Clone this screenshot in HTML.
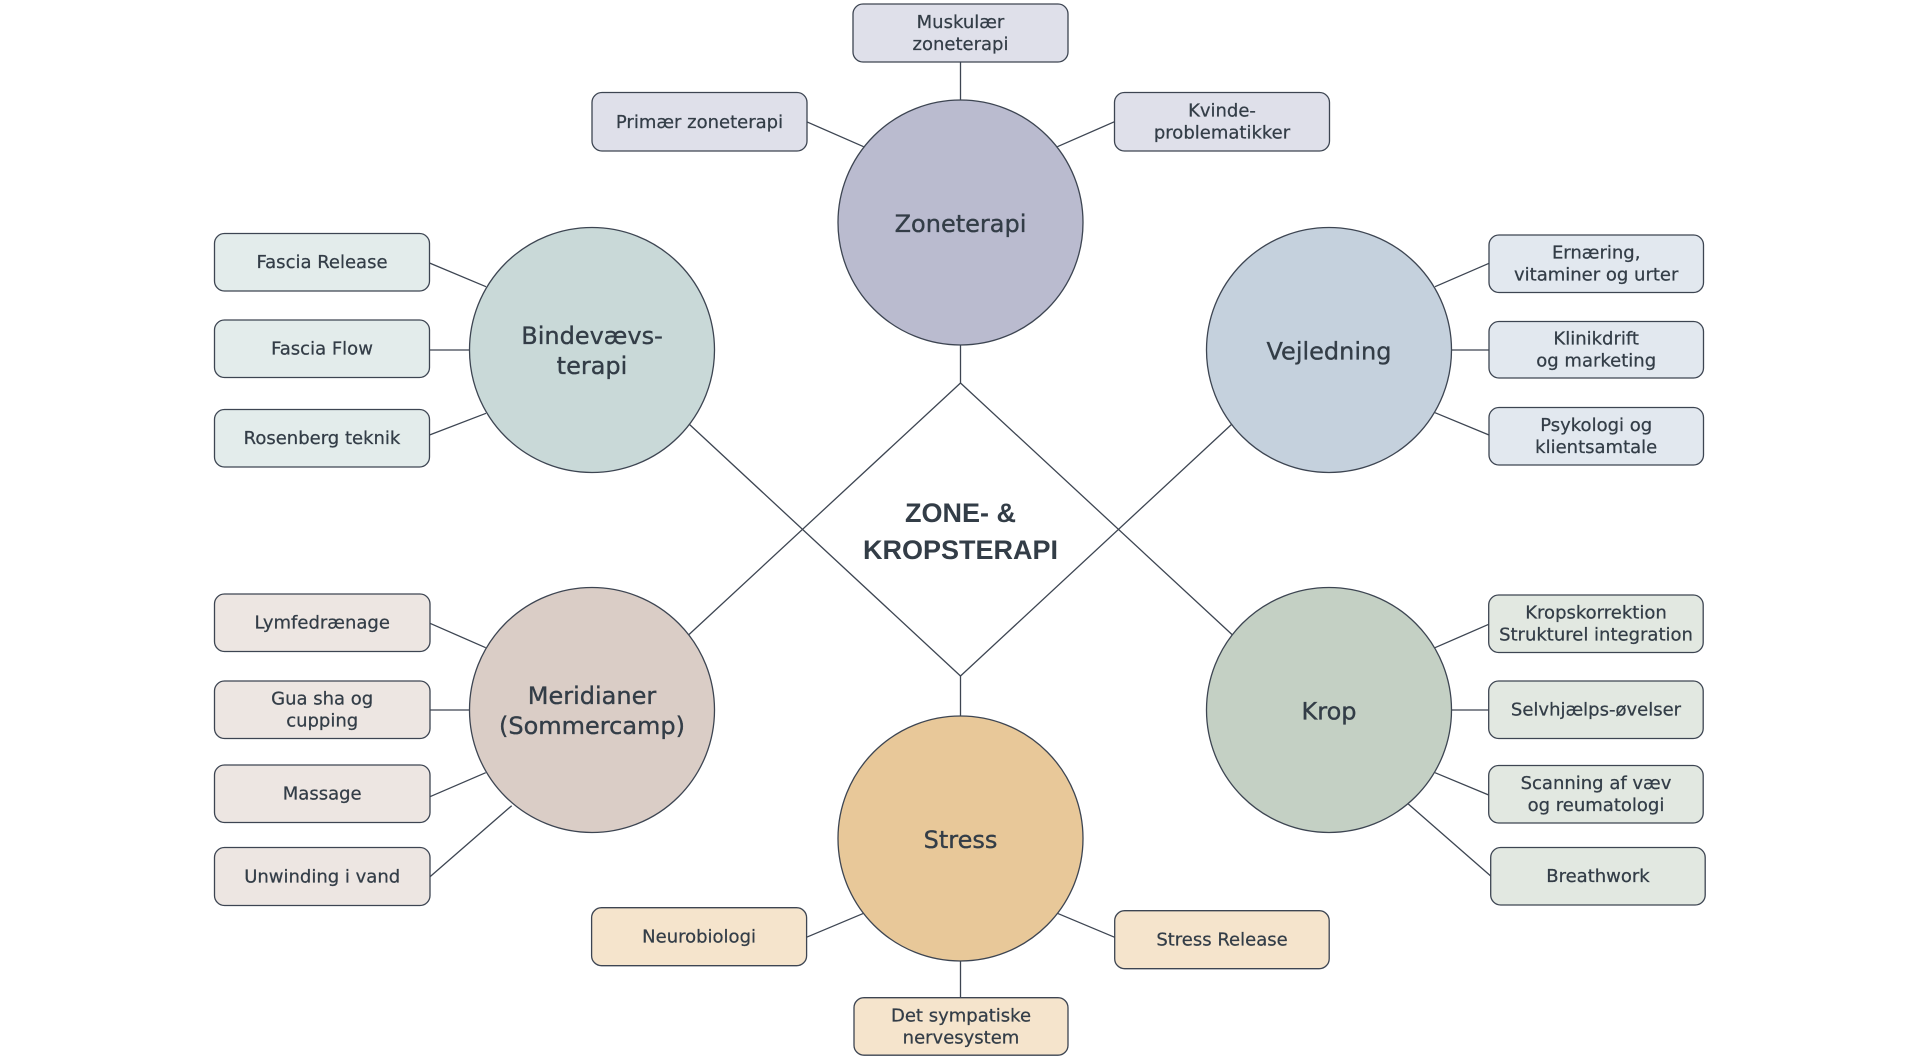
<!DOCTYPE html>
<html>
<head>
<meta charset="utf-8">
<style>
  html, body { margin:0; padding:0; background:#ffffff; }
  body { width:1920px; height:1060px; overflow:hidden; }
  svg { display:block; }
  .ln { stroke:#3d4552; stroke-width:1.3; fill:none; }
  .bx { stroke:#3d4552; stroke-width:1.3; }
  .ci { stroke:#3d4552; stroke-width:1.3; }
  .t { font-family:"DejaVu Sans","Liberation Sans",sans-serif; font-size:18px; fill:#333d47; stroke:#333d47; stroke-width:0.25; text-anchor:middle; }
  .c { font-family:"DejaVu Sans","Liberation Sans",sans-serif; font-size:24px; fill:#333d47; stroke:#333d47; stroke-width:0.35; text-anchor:middle; }
  .title { font-family:"Liberation Sans","DejaVu Sans",sans-serif; font-weight:bold; font-size:27px; fill:#333d47; text-anchor:middle; }
</style>
</head>
<body>
<svg width="1920" height="1060" viewBox="0 0 1920 1060" xmlns="http://www.w3.org/2000/svg">
  <rect x="0" y="0" width="1920" height="1060" fill="#ffffff"/>

  <!-- main connectors / diamond -->
  <line class="ln" x1="960.5" y1="345" x2="960.5" y2="383"/>
  <line class="ln" x1="960.5" y1="676" x2="960.5" y2="716"/>
  <line class="ln" x1="689" y1="424" x2="960.5" y2="676"/>
  <line class="ln" x1="1232" y1="424" x2="960.5" y2="676"/>
  <line class="ln" x1="688.5" y1="635" x2="960.5" y2="383"/>
  <line class="ln" x1="1232.5" y1="635" x2="960.5" y2="383"/>

  <!-- Zoneterapi connectors -->
  <line class="ln" x1="960.5" y1="62" x2="960.5" y2="100"/>
  <line class="ln" x1="806.5" y1="121.7" x2="863.6" y2="146.7"/>
  <line class="ln" x1="1114.5" y1="121.7" x2="1057.4" y2="146.7"/>

  <!-- Bindevævs connectors -->
  <line class="ln" x1="429.5" y1="263" x2="486" y2="286.7"/>
  <line class="ln" x1="429.5" y1="350" x2="469.5" y2="350"/>
  <line class="ln" x1="429.5" y1="435" x2="486" y2="413.3"/>

  <!-- Vejledning connectors -->
  <line class="ln" x1="1489" y1="263.3" x2="1435" y2="286.7"/>
  <line class="ln" x1="1451.5" y1="350" x2="1489" y2="350"/>
  <line class="ln" x1="1435" y1="412.7" x2="1489" y2="435"/>

  <!-- Meridianer connectors -->
  <line class="ln" x1="430" y1="623.3" x2="485.7" y2="647.7"/>
  <line class="ln" x1="430" y1="710" x2="469.5" y2="710"/>
  <line class="ln" x1="430" y1="796.7" x2="485.7" y2="772.7"/>
  <line class="ln" x1="430" y1="876.7" x2="511.7" y2="805.7"/>

  <!-- Krop connectors -->
  <line class="ln" x1="1488.7" y1="624.3" x2="1435" y2="647.7"/>
  <line class="ln" x1="1451.5" y1="710" x2="1488.7" y2="710"/>
  <line class="ln" x1="1435" y1="772.7" x2="1488.7" y2="795"/>
  <line class="ln" x1="1408.3" y1="804" x2="1490.7" y2="876"/>

  <!-- Stress connectors -->
  <line class="ln" x1="806.4" y1="937.3" x2="863.6" y2="913.3"/>
  <line class="ln" x1="1057.4" y1="913.3" x2="1114.7" y2="937.3"/>
  <line class="ln" x1="960.5" y1="961" x2="960.5" y2="997.7"/>

  <!-- Circles -->
  <circle class="ci" cx="960.5" cy="222.5" r="122.5" fill="#babbcf"/>
  <circle class="ci" cx="592" cy="350" r="122.5" fill="#c9d9d8"/>
  <circle class="ci" cx="1329" cy="350" r="122.5" fill="#c5d1dd"/>
  <circle class="ci" cx="592" cy="710" r="122.5" fill="#dacdc6"/>
  <circle class="ci" cx="1329" cy="710" r="122.5" fill="#c4d0c4"/>
  <circle class="ci" cx="960.5" cy="838.5" r="122.5" fill="#e8c899"/>

  <!-- Circle labels -->
  <text class="c" x="960.5" y="232">Zoneterapi</text>
  <text class="c" x="592" y="344">Bindevævs-</text>
  <text class="c" x="592" y="374">terapi</text>
  <text class="c" x="1329" y="359.5">Vejledning</text>
  <text class="c" x="592" y="704">Meridianer</text>
  <text class="c" x="592" y="734">(Sommercamp)</text>
  <text class="c" x="1329" y="719.5">Krop</text>
  <text class="c" x="960.5" y="848">Stress</text>

  <!-- Title -->
  <text class="title" x="960.5" y="522">ZONE- &amp;</text>
  <text class="title" x="960.5" y="559">KROPSTERAPI</text>

  <!-- Zoneterapi boxes -->
  <rect class="bx" x="853" y="4" width="215" height="58" rx="10" fill="#dfe0ea"/>
  <text class="t" x="960.5" y="28">Muskulær</text>
  <text class="t" x="960.5" y="50">zoneterapi</text>
  <rect class="bx" x="592" y="92.5" width="215" height="58.5" rx="10" fill="#dfe0ea"/>
  <text class="t" x="699.5" y="128">Primær zoneterapi</text>
  <rect class="bx" x="1114.5" y="92.5" width="215" height="58.5" rx="10" fill="#dfe0ea"/>
  <text class="t" x="1222" y="116.7">Kvinde-</text>
  <text class="t" x="1222" y="138.7">problematikker</text>

  <!-- Bindevævs boxes -->
  <rect class="bx" x="214.5" y="233.5" width="215" height="57.5" rx="10" fill="#e3eceb"/>
  <text class="t" x="322" y="268.2">Fascia Release</text>
  <rect class="bx" x="214.5" y="320" width="215" height="57.5" rx="10" fill="#e3eceb"/>
  <text class="t" x="322" y="354.7">Fascia Flow</text>
  <rect class="bx" x="214.5" y="409.5" width="215" height="57.5" rx="10" fill="#e3eceb"/>
  <text class="t" x="322" y="444.2">Rosenberg teknik</text>

  <!-- Vejledning boxes -->
  <rect class="bx" x="1489" y="235" width="214.5" height="57.5" rx="10" fill="#e2e8ef"/>
  <text class="t" x="1596.2" y="258.7">Ernæring,</text>
  <text class="t" x="1596.2" y="280.7">vitaminer og urter</text>
  <rect class="bx" x="1489" y="321.5" width="214.5" height="56.5" rx="10" fill="#e2e8ef"/>
  <text class="t" x="1596.2" y="344.7">Klinikdrift</text>
  <text class="t" x="1596.2" y="366.7">og marketing</text>
  <rect class="bx" x="1489" y="407.5" width="214.5" height="57.5" rx="10" fill="#e2e8ef"/>
  <text class="t" x="1596.2" y="431.2">Psykologi og</text>
  <text class="t" x="1596.2" y="453.2">klientsamtale</text>

  <!-- Meridianer boxes -->
  <rect class="bx" x="214.5" y="594" width="215.5" height="57.5" rx="10" fill="#ede6e2"/>
  <text class="t" x="322.2" y="628.7">Lymfedrænage</text>
  <rect class="bx" x="214.5" y="681" width="215.5" height="57.5" rx="10" fill="#ede6e2"/>
  <text class="t" x="322.2" y="704.7">Gua sha og</text>
  <text class="t" x="322.2" y="726.7">cupping</text>
  <rect class="bx" x="214.5" y="765" width="215.5" height="57.5" rx="10" fill="#ede6e2"/>
  <text class="t" x="322.2" y="799.7">Massage</text>
  <rect class="bx" x="214.5" y="847.5" width="215.5" height="58" rx="10" fill="#ede6e2"/>
  <text class="t" x="322.2" y="882.5">Unwinding i vand</text>

  <!-- Krop boxes -->
  <rect class="bx" x="1488.7" y="595" width="214.5" height="57.5" rx="10" fill="#e2e8e1"/>
  <text class="t" x="1596" y="618.7">Kropskorrektion</text>
  <text class="t" x="1596" y="640.7">Strukturel integration</text>
  <rect class="bx" x="1488.7" y="681" width="214.5" height="57.5" rx="10" fill="#e2e8e1"/>
  <text class="t" x="1596" y="715.7">Selvhjælps-øvelser</text>
  <rect class="bx" x="1488.7" y="765.5" width="214.5" height="57.5" rx="10" fill="#e2e8e1"/>
  <text class="t" x="1596" y="789.2">Scanning af væv</text>
  <text class="t" x="1596" y="811.2">og reumatologi</text>
  <rect class="bx" x="1490.7" y="847.5" width="214.5" height="57.5" rx="10" fill="#e2e8e1"/>
  <text class="t" x="1598" y="882.2">Breathwork</text>

  <!-- Stress boxes -->
  <rect class="bx" x="591.6" y="907.7" width="215" height="58" rx="10" fill="#f5e4cc"/>
  <text class="t" x="699.1" y="942.7">Neurobiologi</text>
  <rect class="bx" x="1114.7" y="910.7" width="214.5" height="58" rx="10" fill="#f5e4cc"/>
  <text class="t" x="1222" y="945.7">Stress Release</text>
  <rect class="bx" x="854" y="997.7" width="214" height="57.5" rx="10" fill="#f5e4cc"/>
  <text class="t" x="961" y="1021.5">Det sympatiske</text>
  <text class="t" x="961" y="1043.5">nervesystem</text>
</svg>
</body>
</html>
